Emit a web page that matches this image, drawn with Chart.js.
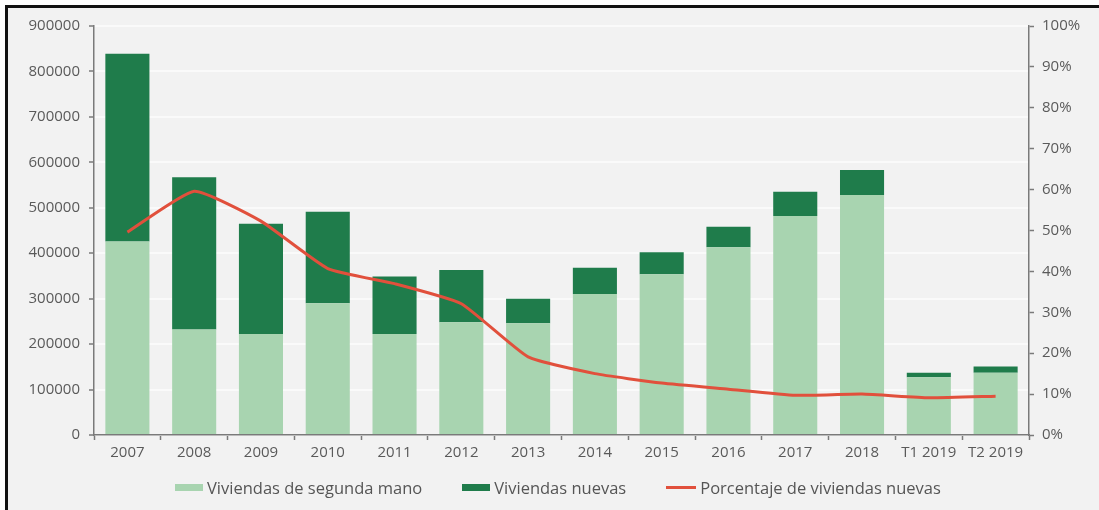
<!DOCTYPE html>
<html lang="es">
<head>
<meta charset="utf-8">
<title>Viviendas vendidas</title>
<script src="https://cdn.jsdelivr.net/npm/chart.js@4/dist/chart.umd.min.js"></script>
<style>
  html, body { margin: 0; padding: 0; background: #ffffff; }
  body { width: 1099px; height: 510px; position: relative; overflow: hidden; }
  #frame {
    position: absolute; left: 5px; top: 5px;
    width: 1091px; height: 502px;
    border-left: 3px solid #111; border-top: 3px solid #111;
    background: #f2f2f2;
  }
  #chart { position: absolute; left: 0; top: 0; }
  #legend {
    position: absolute; left: 167px; top: 468px;
    display: flex; align-items: center;
    font-family: "Open Sans", sans-serif; font-size: 16.5px; color: #555;
  }
  #legend .item { display: flex; align-items: center; margin-right: 40px; }
  #legend .swatch { display: inline-block; width: 28px; margin-right: 4px; }
</style>
</head>
<body>
<div id="frame">
  <canvas id="chart" width="1091" height="502"></canvas>
  <div id="legend"></div>
</div>
<script>
  // Periodos del eje horizontal
  const categories = ['2007', '2008', '2009', '2010', '2011', '2012', '2013', '2014',
    '2015', '2016', '2017', '2018', 'T1 2019', 'T2 2019'];

  // Compraventas de viviendas de segunda mano
  const segundaMano = [426000, 232000, 222000, 290000, 222000, 248000, 246000,
    310000, 354000, 413000, 482000, 528000, 127000, 137000];

  // Compraventas de viviendas nuevas (apiladas sobre las de segunda mano)
  const nuevas = [413000, 335000, 243000, 201000, 127000, 115000, 54000,
    58000, 48000, 45000, 53000, 55000, 10000, 14000];

  // Porcentaje de viviendas nuevas sobre el total (eje derecho)
  const porcentajeNuevas = [49.6, 59.6, 52.3, 40.7, 37.0, 32.1, 19.1,
    15.0, 12.7, 11.2, 9.7, 10.0, 9.1, 9.5];

  const leftTicks = [0, 100000, 200000, 300000, 400000, 500000, 600000, 700000, 800000, 900000];
  const rightTicks = [0, 10, 20, 30, 40, 50, 60, 70, 80, 90, 100];

  const LIGHT_GREEN = '#a8d4b0';
  const DARK_GREEN = '#1f7c4b';
  const RED = '#e1503c';
  const AXIS = '#7a7a7a';
  const TEXT = '#5a5a5a';
  const FONT = { family: '"Open Sans", sans-serif', size: 15 };

  const ctx = document.getElementById('chart').getContext('2d');

  const chart = new Chart(ctx, {
    type: 'bar',
    data: {
      labels: categories,
      datasets: [
        {
          type: 'line',
          label: 'Porcentaje de viviendas nuevas',
          data: porcentajeNuevas,
          yAxisID: 'y1',
          borderColor: RED,
          backgroundColor: RED,
          borderWidth: 3,
          pointRadius: 0,
          tension: 0.15,
          order: 0
        },
        {
          label: 'Viviendas de segunda mano',
          data: segundaMano,
          backgroundColor: LIGHT_GREEN,
          stack: 'total',
          categoryPercentage: 1,
          barPercentage: 0.66,
          order: 1
        },
        {
          label: 'Viviendas nuevas',
          data: nuevas,
          backgroundColor: DARK_GREEN,
          stack: 'total',
          categoryPercentage: 1,
          barPercentage: 0.66,
          order: 1
        }
      ]
    },
    options: {
      responsive: false,
      animation: false,
      layout: { padding: { top: 17, left: 0, right: 0, bottom: 40 } },
      plugins: {
        legend: { display: false },
        tooltip: { enabled: false }
      },
      scales: {
        x: {
          stacked: true,
          grid: {
            offset: true,
            drawOnChartArea: false,
            tickColor: AXIS,
            tickLength: 5,
            tickWidth: 1.5
          },
          border: { color: AXIS, width: 1.5 },
          ticks: { color: TEXT, font: FONT, padding: 4, maxRotation: 0 },
          afterFit: (scale) => { scale.height = 35; }
        },
        y: {
          stacked: true,
          position: 'left',
          min: 0,
          max: 900000,
          afterBuildTicks: (scale) => { scale.ticks = leftTicks.map(v => ({ value: v })); },
          grid: {
            color: '#fafafa',
            lineWidth: 2,
            tickColor: AXIS,
            tickLength: 5,
            tickWidth: 1.5
          },
          border: { color: AXIS, width: 1.5 },
          ticks: { color: TEXT, font: FONT, padding: 9, callback: (v) => String(v) },
          afterFit: (scale) => { scale.width = 86; }
        },
        y1: {
          position: 'right',
          min: 0,
          max: 100,
          afterBuildTicks: (scale) => { scale.ticks = rightTicks.map(v => ({ value: v })); },
          grid: {
            drawOnChartArea: false,
            tickColor: AXIS,
            tickLength: 5,
            tickWidth: 1.5
          },
          border: { color: AXIS, width: 1.5 },
          ticks: { color: TEXT, font: FONT, padding: 8, callback: (v) => v + '%' },
          afterFit: (scale) => { scale.width = 70; }
        }
      }
    }
  });

  // Leyenda en HTML: barras primero, luego la línea
  const legend = document.getElementById('legend');
  [1, 2, 0].forEach(i => {
    const ds = chart.data.datasets[i];
    const item = document.createElement('span');
    item.className = 'item';
    const sw = document.createElement('span');
    sw.className = 'swatch';
    sw.style.background = ds.backgroundColor;
    sw.style.height = ds.type === 'line' ? '3px' : '7px';
    if (ds.type === 'line') sw.style.width = '30px';
    item.appendChild(sw);
    item.appendChild(document.createTextNode(ds.label));
    legend.appendChild(item);
  });
</script>
</body>
</html>
